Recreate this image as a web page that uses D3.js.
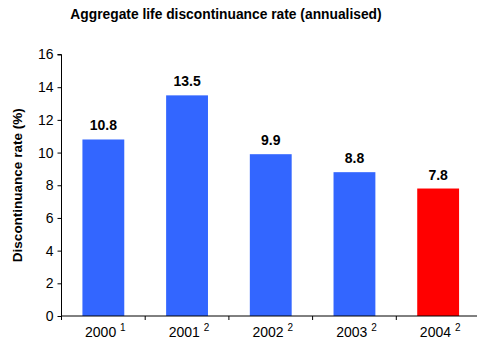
<!DOCTYPE html>
<html>
<head>
<meta charset="utf-8">
<script src="https://cdn.jsdelivr.net/npm/d3@7/dist/d3.min.js"></script>
<style>
  body { margin: 0; background: #fff; }
  svg { display: block; font-family: "Liberation Sans", Arial, sans-serif; }
</style>
</head>
<body>
<svg id="chart" width="477" height="342"></svg>
<script>
// Annualised aggregate life discontinuance rate by year
const years = ["2000", "2001", "2002", "2003", "2004"];
const footnotes = ["1", "2", "2", "2", "2"];
const rates = [10.8, 13.5, 9.9, 8.8, 7.8];
const barColors = ["#3366FF", "#3366FF", "#3366FF", "#3366FF", "#FF0000"];
const yTicks = [0, 2, 4, 6, 8, 10, 12, 14, 16];

const svg = d3.select("#chart");
const margin = { left: 61.5, right: -3, top: 54.5, bottom: 26 };
const W = 477, H = 342;

const x = d3.scaleBand()
  .domain(years)
  .range([margin.left, W - margin.right])
  .paddingInner(0.5)
  .paddingOuter(0.25);

const y = d3.scaleLinear()
  .domain([0, 16])
  .range([H - margin.bottom, margin.top]);

// Title
svg.append("text")
  .attr("x", 226)
  .attr("y", 18.5)
  .attr("text-anchor", "middle")
  .attr("font-size", 13.8)
  .attr("font-weight", "bold")
  .text("Aggregate life discontinuance rate (annualised)");

// Bars
svg.append("g")
  .selectAll("rect")
  .data(rates)
  .join("rect")
  .attr("x", (d, i) => x(years[i]))
  .attr("width", x.bandwidth())
  .attr("y", d => y(d))
  .attr("height", d => y(0) - y(d))
  .attr("fill", (d, i) => barColors[i]);

// Value labels
svg.append("g")
  .selectAll("text")
  .data(rates)
  .join("text")
  .attr("x", (d, i) => x(years[i]) + x.bandwidth() / 2)
  .attr("y", d => y(d) - 9)
  .attr("text-anchor", "middle")
  .attr("font-size", 14)
  .attr("font-weight", "bold")
  .text(d => d.toFixed(1));

// Y axis
const yAxis = svg.append("g")
  .attr("transform", `translate(${margin.left},0)`)
  .call(d3.axisLeft(y).tickValues(yTicks).tickSize(4).tickPadding(4).tickFormat(d3.format("d")));
yAxis.selectAll("text").attr("font-size", 14).attr("fill", "#000").attr("font-family", "Liberation Sans, Arial, sans-serif");
yAxis.selectAll("line").attr("stroke", "#000");
yAxis.select(".domain").attr("d", `M-4,${y(16)}H0V${y(0)}`).attr("stroke", "#000");

// X axis: ticks at band boundaries
const xAxisG = svg.append("g").attr("transform", `translate(0,${y(0)})`);
const step = x.step();
const edges = d3.range(years.length + 1).map(i => margin.left + i * step);
xAxisG.append("line")
  .attr("x1", margin.left).attr("x2", W)
  .attr("stroke", "#000");
xAxisG.selectAll("line.tick")
  .data(edges)
  .join("line")
  .attr("class", "tick")
  .attr("x1", d => d).attr("x2", d => d)
  .attr("y1", 0).attr("y2", 4)
  .attr("stroke", "#000");

const xl = xAxisG.selectAll("text.lbl")
  .data(years)
  .join("text")
  .attr("class", "lbl")
  .attr("x", d => x(d) + x.bandwidth() / 2 + 2)
  .attr("y", 21)
  .attr("text-anchor", "middle")
  .attr("font-size", 14);
xl.append("tspan").text(d => d + " ");
xl.append("tspan")
  .attr("font-size", 10)
  .attr("dy", -6)
  .text((d, i) => footnotes[i]);

// Y axis title
svg.append("text")
  .attr("transform", `translate(22,${(y(0) + y(16)) / 2}) rotate(-90)`)
  .attr("text-anchor", "middle")
  .attr("font-size", 13.5)
  .attr("font-weight", "bold")
  .text("Discontinuance rate (%)");
</script>
</body>
</html>
